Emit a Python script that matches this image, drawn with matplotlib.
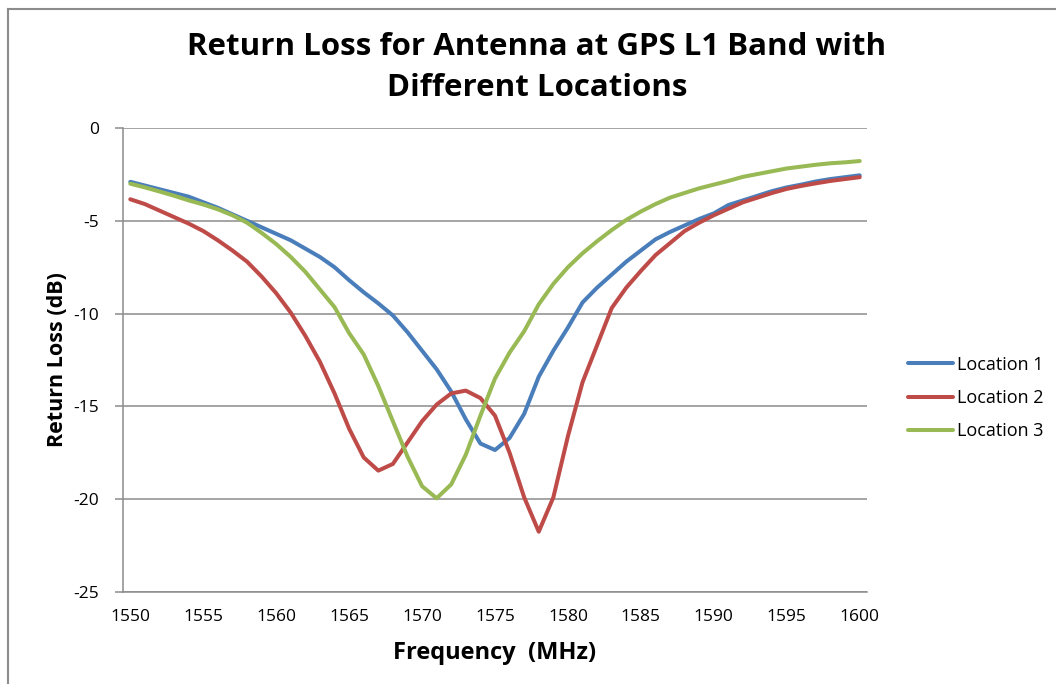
import matplotlib
matplotlib.use("Agg")
import matplotlib.pyplot as plt
from matplotlib.lines import Line2D
import numpy as np

freq = list(range(1550, 1601))

location1 = [-2.9, -3.1, -3.3, -3.5, -3.7, -4.0, -4.3, -4.65, -5.0, -5.35,
             -5.7, -6.05, -6.5, -6.95, -7.5, -8.2, -8.85, -9.45, -10.1, -11.0,
             -12.0, -13.0, -14.2, -15.7, -17.0, -17.35, -16.7, -15.4, -13.4, -12.0,
             -10.75, -9.4, -8.6, -7.9, -7.2, -6.6, -6.0, -5.6, -5.25, -4.9,
             -4.6, -4.15, -3.9, -3.65, -3.4, -3.2, -3.05, -2.88, -2.75, -2.65,
             -2.55]

location2 = [-3.84, -4.1, -4.45, -4.8, -5.15, -5.55, -6.05, -6.6, -7.2, -8.0,
             -8.9, -9.95, -11.2, -12.6, -14.3, -16.2, -17.75, -18.46, -18.1, -16.95,
             -15.8, -14.9, -14.3, -14.15, -14.55, -15.5, -17.5, -19.9, -21.75, -19.9,
             -16.6, -13.7, -11.7, -9.7, -8.6, -7.7, -6.85, -6.2, -5.55, -5.1,
             -4.7, -4.35, -4.0, -3.75, -3.5, -3.28, -3.12, -2.98, -2.85, -2.75,
             -2.65]

location3 = [-3.0, -3.2, -3.42, -3.65, -3.9, -4.12, -4.38, -4.7, -5.1, -5.65,
             -6.25, -6.95, -7.75, -8.7, -9.65, -11.05, -12.2, -13.9, -15.8, -17.7,
             -19.3, -19.95, -19.2, -17.6, -15.5, -13.5, -12.1, -10.95, -9.5, -8.4,
             -7.5, -6.75, -6.1, -5.5, -4.95, -4.5, -4.1, -3.75, -3.5, -3.25,
             -3.05, -2.85, -2.63, -2.48, -2.33, -2.18, -2.08, -1.98, -1.9, -1.85,
             -1.78]

series_names = ["Location 1", "Location 2", "Location 3"]
colors = ["#4A7EBB", "#BE4B48", "#98B954"]
x_ticks = list(range(1550, 1601, 5))
y_ticks = [0, -5, -10, -15, -20, -25]

title = "Return Loss for Antenna at GPS L1 Band with\nDifferent Locations"
xlabel = "Frequency  (MHz)"
ylabel = "Return Loss (dB)"

font = ["Open Sans", "DejaVu Sans"]
plt.rcParams["font.family"] = font
plt.rcParams["axes.unicode_minus"] = False

W, H = 1056, 684
fig = plt.figure(figsize=(W / 100, H / 100), dpi=100)
fig.patch.set_facecolor("white")
ax = fig.add_axes([123 / W, 1 - 592 / H, (867 - 123) / W, (592 - 128) / H])

for vals, name, c in zip([location1, location2, location3], series_names, colors):
    ax.plot(freq, vals, color=c, lw=2.9, label=name, solid_joinstyle="round",
            solid_capstyle="round")

ax.set_xlim(1549.5, 1600.5)
ax.set_ylim(-25, 0)
ax.set_xticks(x_ticks)
ax.set_yticks(y_ticks)
ax.yaxis.grid(True, color="#8C8C8C", lw=1.1)
ax.set_axisbelow(True)
for s in ["top", "right"]:
    ax.spines[s].set_visible(False)
ax.spines["left"].set_color("#8C8C8C")
ax.spines["bottom"].set_color("#8C8C8C")
ax.spines["left"].set_linewidth(1.1)
ax.spines["bottom"].set_linewidth(1.1)
ax.tick_params(axis="x", length=0, pad=12, labelsize=12.5, colors="#000000")
ax.tick_params(axis="y", length=6, width=1.1, color="#8C8C8C", pad=11,
               labelsize=12.5, labelcolor="#000000")

ax.set_xlabel(xlabel, fontsize=17, fontweight="bold", labelpad=12)
ax.set_ylabel(ylabel, fontsize=15.5, fontweight="bold", labelpad=4)
fig.text(537 / W, 1 - 67.5 / H, title, ha="center", va="center",
         fontsize=22.5, fontweight="bold", linespacing=1.5)

leg = ax.legend(loc="center left", bbox_to_anchor=(892 / W, 1 - 398 / H),
                bbox_transform=fig.transFigure, frameon=False, fontsize=13,
                handlelength=2.5, handletextpad=0.2, labelspacing=0.85)

# outer chart border (partially cropped)
fig.add_artist(Line2D([8 / W, 8 / W], [0, 1 - 9 / H], transform=fig.transFigure,
                      color="#8C8C8C", lw=1.5))
fig.add_artist(Line2D([8 / W, 1], [1 - 9 / H, 1 - 9 / H], transform=fig.transFigure,
                      color="#8C8C8C", lw=1.5))

fig.savefig("out.png", dpi=100)
